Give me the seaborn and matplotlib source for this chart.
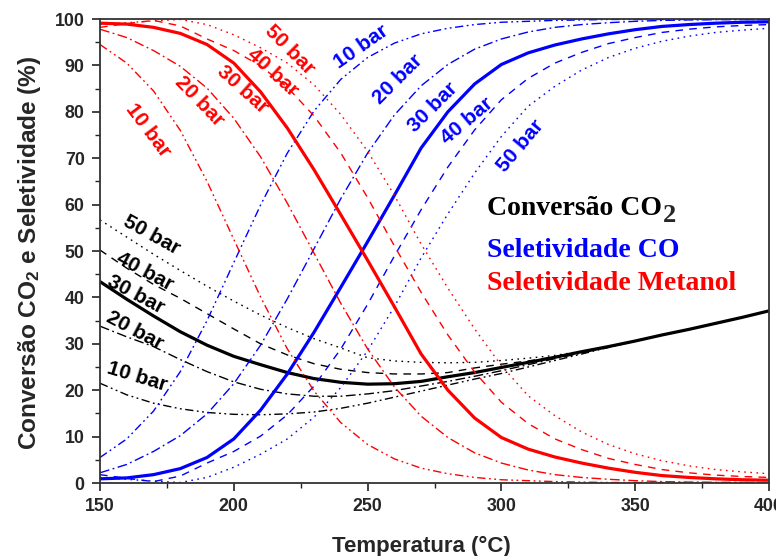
import matplotlib
matplotlib.use("Agg")
import matplotlib.pyplot as plt
from matplotlib import font_manager
from matplotlib.ticker import MultipleLocator
import pandas as pd
import seaborn as sns

# Temperatura (°C)
temperatura = [150, 160, 170, 180, 190, 200, 210, 220, 230, 240, 250, 260, 270,
               280, 290, 300, 310, 320, 330, 340, 350, 360, 370, 380, 390, 400]
pressoes = [10, 20, 30, 40, 50]

# Conversão de CO2 (%)
conv_10 = [21.5, 19.0, 17.2, 16.0, 15.2, 14.8, 14.7, 14.9, 15.3, 16.1, 17.2, 18.5, 19.8,
           21.1, 22.4, 23.6, 25.0, 26.4, 27.8, 29.2, 30.6, 31.9, 33.1, 34.4, 35.7, 37.1]
conv_20 = [33.8, 31.5, 29.4, 26.6, 24.0, 21.8, 20.2, 19.2, 18.7, 18.7, 19.2, 19.9, 20.9,
           21.9, 23.0, 24.2, 25.5, 26.8, 28.0, 29.3, 30.6, 31.9, 33.1, 34.4, 35.7, 37.1]
conv_30 = [43.4, 39.6, 36.0, 32.6, 29.7, 27.3, 25.5, 23.8, 22.5, 21.7, 21.3, 21.4, 21.9,
           22.9, 23.8, 24.9, 26.0, 27.1, 28.3, 29.4, 30.6, 31.9, 33.1, 34.4, 35.7, 37.1]
conv_40 = [50.2, 46.3, 42.8, 39.8, 36.5, 33.2, 30.0, 27.6, 25.7, 24.5, 23.8, 23.5, 23.5,
           23.8, 24.8, 25.6, 26.3, 27.2, 28.3, 29.4, 30.6, 31.9, 33.1, 34.4, 35.7, 37.1]
conv_50 = [56.7, 53.0, 49.3, 45.8, 42.4, 39.2, 36.2, 33.5, 31.1, 29.1, 27.0, 26.3, 26.0,
           25.9, 26.0, 26.4, 26.9, 27.5, 28.4, 29.4, 30.6, 31.9, 33.1, 34.4, 35.7, 37.1]

# Seletividade a CO (%)
sco_10 = [5.5, 9.5, 15.5, 24.0, 35.0, 47.5, 59.9, 71.1, 80.2, 87.0, 91.7, 94.8, 96.8,
          98.0, 98.8, 99.3, 99.5, 99.7, 99.8, 99.9, 99.9, 99.9, 99.9, 99.9, 99.9, 99.9]
sco_20 = [2.2, 4.0, 6.8, 10.2, 14.9, 21.4, 29.7, 39.7, 50.5, 61.3, 71.1, 79.3, 85.6,
          90.2, 93.5, 95.7, 97.2, 98.2, 98.8, 99.2, 99.5, 99.7, 99.8, 99.85, 99.9, 99.9]
sco_30 = [0.9, 1.1, 1.8, 3.1, 5.5, 9.5, 15.7, 23.5, 32.5, 42.2, 52.0, 62.0, 72.2,
          80.0, 86.0, 90.2, 92.7, 94.4, 95.7, 96.8, 97.7, 98.4, 98.8, 99.1, 99.3, 99.4]
sco_40 = [1.8, 1.0, 0.3, 1.5, 4.3, 6.8, 10.1, 14.7, 20.9, 28.9, 38.5, 48.9, 58.9,
          68.1, 76.1, 82.6, 87.2, 90.5, 92.8, 94.7, 96.0, 97.1, 97.8, 98.3, 98.6, 98.8]
sco_50 = [1.2, 0.8, 0.4, 0.1, 1.2, 3.4, 6.2, 9.5, 14.2, 20.6, 28.5, 38.0, 48.5,
          58.0, 66.8, 74.7, 81.2, 85.5, 89.0, 91.7, 93.7, 95.2, 96.3, 97.1, 97.6, 98.0]

# Seletividade a metanol (%)
smeoh_10 = [94.5, 90.5, 84.5, 76.0, 65.0, 52.5, 40.1, 28.9, 19.8, 13.0, 8.3, 5.2, 3.2,
            2.0, 1.2, 0.7, 0.5, 0.3, 0.2, 0.1, 0.1, 0.1, 0.1, 0.1, 0.1, 0.1]
smeoh_20 = [97.8, 96.0, 93.2, 89.8, 85.1, 78.6, 70.3, 60.3, 49.5, 38.7, 28.9, 20.7, 14.4,
            9.8, 6.5, 4.3, 2.8, 1.8, 1.2, 0.8, 0.5, 0.3, 0.2, 0.15, 0.1, 0.1]
smeoh_30 = [99.1, 98.9, 98.2, 96.9, 94.5, 90.5, 84.3, 76.5, 67.5, 57.8, 48.0, 38.0, 27.8,
            20.0, 14.0, 9.8, 7.3, 5.6, 4.3, 3.2, 2.3, 1.6, 1.2, 0.9, 0.7, 0.6]
smeoh_40 = [98.2, 99.0, 99.7, 98.5, 95.7, 93.2, 89.9, 85.3, 79.1, 71.1, 61.5, 51.1, 41.1,
            31.9, 23.9, 17.4, 12.8, 9.5, 7.2, 5.3, 4.0, 2.9, 2.2, 1.7, 1.4, 1.2]
smeoh_50 = [98.8, 99.2, 99.6, 99.9, 98.8, 96.6, 93.8, 90.5, 85.8, 79.4, 71.5, 62.0, 51.5,
            42.0, 33.2, 25.3, 18.8, 14.5, 11.0, 8.3, 6.3, 4.8, 3.7, 2.9, 2.4, 2.0]

series = {
    "Conversão CO2": [conv_10, conv_20, conv_30, conv_40, conv_50],
    "Seletividade CO": [sco_10, sco_20, sco_30, sco_40, sco_50],
    "Seletividade Metanol": [smeoh_10, smeoh_20, smeoh_30, smeoh_40, smeoh_50],
}

rows = []
for grandeza, curvas in series.items():
    for p, valores in zip(pressoes, curvas):
        for t, v in zip(temperatura, valores):
            rows.append({"T": t, "valor": v, "grandeza": grandeza, "pressao": p})
df = pd.DataFrame(rows)

sns.set_theme(style="ticks")
nomes = {f.name for f in font_manager.fontManager.ttflist}
sans = "Liberation Sans" if "Liberation Sans" in nomes else "DejaVu Sans"
serif = "Liberation Serif" if "Liberation Serif" in nomes else "DejaVu Serif"
plt.rcParams["font.family"] = [sans, "DejaVu Sans"]
plt.rcParams["mathtext.fontset"] = "custom"
plt.rcParams["mathtext.rm"] = f"{sans}:bold"
plt.rcParams["mathtext.it"] = f"{sans}:bold"
plt.rcParams["mathtext.bf"] = f"{sans}:bold"

cores = {"Conversão CO2": "black", "Seletividade CO": "#0000ff",
         "Seletividade Metanol": "#ff0000"}
tracos = {10: (6, 2.5, 1.3, 2.5, 1.3, 2.5), 20: (7, 2.5, 1.3, 2.5), 30: "",
          40: (5.5, 4.5), 50: (1.2, 3.2)}
espessuras = {10: 1.0, 20: 1.0, 30: 2.3, 40: 1.0, 50: 1.0}

fig = plt.figure(figsize=(7.76, 5.56), dpi=100)
ax = fig.add_axes([100 / 776, 73 / 556, 669 / 776, 464 / 556])

sns.lineplot(data=df, x="T", y="valor", hue="grandeza", style="pressao",
             size="pressao", palette=cores, dashes=tracos, sizes=espessuras,
             estimator=None, legend=False, ax=ax)

ax.set_xlim(150, 400)
ax.set_ylim(0, 100)
ax.xaxis.set_major_locator(MultipleLocator(50))
ax.xaxis.set_minor_locator(MultipleLocator(25))
ax.yaxis.set_major_locator(MultipleLocator(10))
ax.yaxis.set_minor_locator(MultipleLocator(5))
ax.tick_params(which="major", direction="out", length=6, width=1.2, color="#222",
               labelsize=12.8, pad=5)
ax.tick_params(which="minor", direction="out", length=3.5, width=1.0, color="#222")
for lbl in ax.get_xticklabels() + ax.get_yticklabels():
    lbl.set_fontweight("bold")
for sp in ax.spines.values():
    sp.set_visible(True)
    sp.set_linewidth(1.3)
    sp.set_color("#333333")

ax.set_xlabel("Temperatura (°C)", fontsize=16, fontweight="bold")
ax.set_ylabel(r"Conversão CO$_2$ e Seletividade (%)", fontsize=17.6,
              fontweight="bold")
ax.xaxis.set_label_coords(0.481, -0.113)
ax.yaxis.set_label_coords(-0.085, 0.497)

# Rótulos de pressão junto às curvas
rot_kw = dict(fontsize=15, fontweight="bold", ha="center", va="center",
              rotation_mode="anchor")
rotulos = [
    ("#ff0000", 167.9, 76.1, -53, "10 bar"), ("#ff0000", 187.0, 82.3, -46, "20 bar"),
    ("#ff0000", 203.4, 84.7, -42, "30 bar"), ("#ff0000", 214.6, 88.4, -42, "40 bar"),
    ("#ff0000", 221.0, 93.3, -45, "50 bar"),
    ("#0000ff", 247.5, 94.0, 35, "10 bar"), ("#0000ff", 261.4, 86.9, 45, "20 bar"),
    ("#0000ff", 274.4, 81.0, 45, "30 bar"), ("#0000ff", 287.1, 78.0, 40, "40 bar"),
    ("#0000ff", 307.3, 72.6, 50, "50 bar"),
    ("black", 169.4, 53.4, -29, "50 bar"), ("black", 166.8, 45.5, -28, "40 bar"),
    ("black", 163.5, 40.7, -28, "30 bar"), ("black", 163.1, 32.8, -28, "20 bar"),
    ("black", 163.8, 22.8, -17, "10 bar"),
]
for cor, x, y, ang, txt in rotulos:
    ax.text(x, y, txt, color=cor, rotation=ang, **rot_kw)

# Legenda em texto
leg_kw = dict(fontsize=20, fontweight="bold", family=[serif, "DejaVu Serif"],
              ha="left", va="baseline")
t_conv = ax.text(294.6, 57.8, "Conversão CO", color="black", **leg_kw)
ax.annotate("2", xy=(1, 0), xycoords=t_conv, xytext=(0.5, -1.0),
            textcoords="offset points", ha="left", va="baseline",
            fontsize=19, fontweight="bold", family=[serif, "DejaVu Serif"])
ax.text(294.6, 48.7, "Seletividade CO", color="#0000ff", **leg_kw)
ax.text(294.6, 41.6, "Seletividade Metanol", color="#ff0000", **leg_kw)

fig.savefig("out.png", dpi=100)
